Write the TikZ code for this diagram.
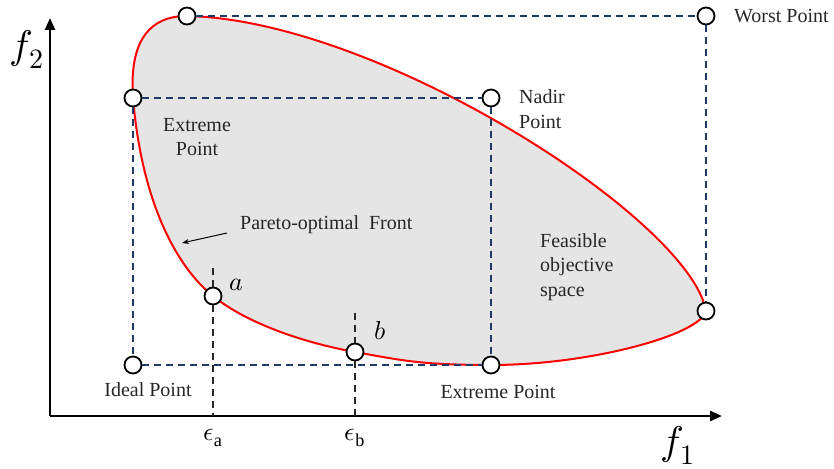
\documentclass[tikz,border=0pt]{standalone}
\usepackage{fontspec}
\usepackage{unicode-math}
\setmainfont{Liberation Serif}
\setmathfont{Latin Modern Math}
\usetikzlibrary{arrows.meta}
\definecolor{dashnavy}{RGB}{32,56,100}
\begin{document}
\begin{tikzpicture}[x=1pt,y=-1pt,
  pt/.style={circle,draw=black,line width=1.8pt,fill=white,minimum size=17pt,inner sep=0pt},
  guide/.style={draw=dashnavy,line width=1.3pt,dash pattern=on 7pt off 5pt},
  lbl/.style={font=\fontsize{20}{24.5}\selectfont,text=black!85,inner sep=0pt},
  axisline/.style={line width=2.5pt,-{Triangle[length=12pt,width=10pt]}},
  front/.style={draw=red,line width=2pt,fill=black!10}]
\useasboundingbox (0,0) rectangle (834,468);
% feasible region
\path[front] (187,16) .. controls (380,20) and (690,220) .. (706,311)
  .. controls (700,335) and (590,365) .. (491,365)
  .. controls (420,365) and (400,360) .. (355,352)
  .. controls (300,342) and (245,322) .. (213,296)
  .. controls (178,268) and (142,205) .. (133,98)
  .. controls (129,40) and (150,16) .. (187,16) -- cycle;
% axes
\coordinate (O) at (50,416);
\coordinate (yend) at (50,18);
\coordinate (xend) at (722,416);
\draw[axisline] (O) -- (yend);
\draw[axisline] (O) -- (xend);
\node[font=\fontsize{40}{40}\selectfont] (f2) at (27,49) {$f_2$};
\node[font=\fontsize{40}{40}\selectfont] (f1) at (678,445) {$f_1$};
% points
\node[pt] (top) at (187,16) {};
\node[pt] (worst) at (706,16) {};
\node[pt] (ext1) at (133,98) {};
\node[pt] (nadir) at (491,98) {};
\node[pt] (ideal) at (133,365) {};
\node[pt] (ext2) at (491,365) {};
\node[pt] (right) at (706,311) {};
\node[pt] (pa) at (213,296) {};
\node[pt] (pb) at (355,352) {};
% guides
\draw[guide] (top) -- (worst);
\draw[guide] (worst) -- (right);
\draw[guide] (ext1) -- (nadir);
\draw[guide] (nadir) -- (ext2);
\draw[guide] (ext1) -- (ideal);
\draw[guide] (ideal) -- (ext2);
\coordinate (atop) at (213,268);
\coordinate (btop) at (355,313);
\draw[guide,draw=black!85,line width=1.2pt] (atop) -- (pa);
\draw[guide,draw=black!85,line width=1.2pt] (pa) -- (pa |- O);
\draw[guide,draw=black!85,line width=1.2pt] (btop) -- (pb);
\draw[guide,draw=black!85,line width=1.2pt] (pb) -- (pb |- O);
% labels
\node[lbl,anchor=west] (lworst) at (734,16) {Worst Point};
\node[lbl,anchor=west,align=left] (lnadir) at (519,109) {Nadir\\Point};
\node[lbl,align=center] (lext1) at (197,137) {Extreme\\Point};
\node[lbl,anchor=west] (lpareto) at (240,225) {Pareto-optimal\ \ Front};
\node[lbl,anchor=west,align=left] (lfeas) at (540,267) {Feasible\\objective\\space};
\node[lbl] (lideal) at (148,390) {Ideal Point};
\node[lbl] (lext2) at (498,392) {Extreme Point};
\node[font=\fontsize{26}{26}\selectfont] (la) at (236,285) {$a$};
\node[font=\fontsize{26}{26}\selectfont] (lb) at (380,331) {$b$};
\node[font=\fontsize{26}{26}\selectfont] (ea) at (213,438) {$\epsilon_{\mathrm{a}}$};
\node[font=\fontsize{26}{26}\selectfont] (eb) at (355,438) {$\epsilon_{\mathrm{b}}$};
% pareto arrow
\coordinate (arrS) at (227,233);
\coordinate (arrE) at (182,243);
\draw[line width=1pt,-{Stealth[length=7pt,width=5pt]}] (arrS) -- (arrE);
\end{tikzpicture}
\end{document}
